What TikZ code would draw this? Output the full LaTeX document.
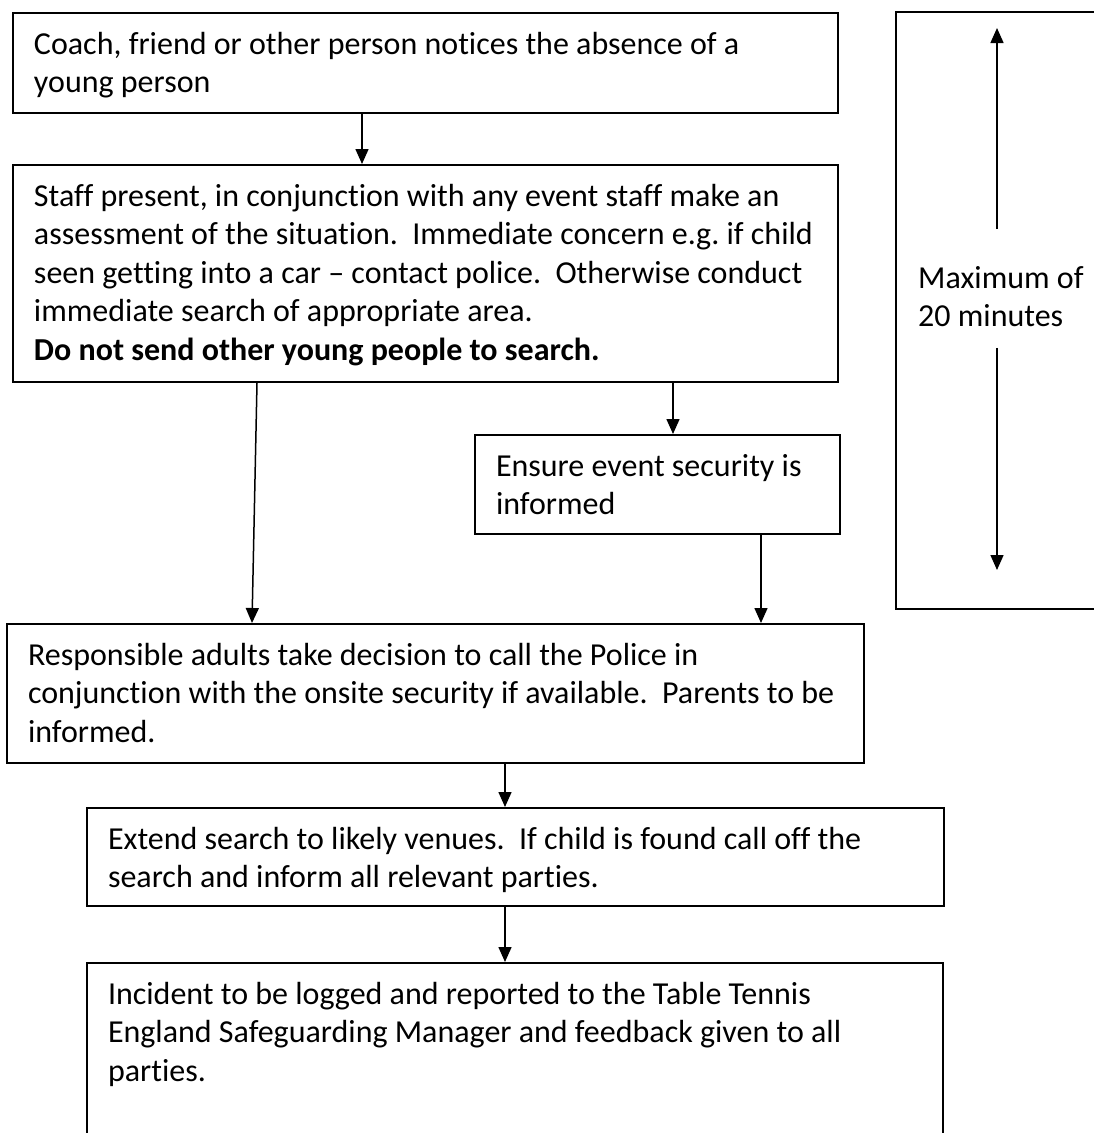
\documentclass[tikz,border=0pt]{standalone}
\usepackage{fontspec}
\setmainfont{Carlito}[Ligatures={TeX,NoCommon}]
\usetikzlibrary{arrows.meta}
\frenchspacing

\begin{document}
\begin{tikzpicture}[x=1pt, y=-1pt,
    stepbox/.style={draw, rectangle, line width=2pt, anchor=north west, align=flush left, inner xsep=21pt, inner ysep=17pt, text height=24pt, font=\fontsize{32}{38.5}\selectfont},
    flow/.style={-{Triangle[length=15pt, width=13pt]}, line width=1.5pt}]
    \useasboundingbox (0,0) rectangle (1093,1133);

    \node[stepbox, text width=783pt, text depth=42pt] (notice) at (12,12) {Coach, friend or other person notices the absence of a\\ young person};
    \node[stepbox, text width=783pt, text depth=159pt] (assess) at (12,164) {Staff present, in conjunction with any event staff make an\\ assessment of the situation.\ \ Immediate concern e.g. if child\\ seen getting into a car – contact police.\ \ Otherwise conduct\\ immediate search of appropriate area.\\ \textbf{Do not send other young people to search.}};
    \node[stepbox, text width=323pt, text depth=41pt] (security) at (474,434) {Ensure event security is\\ informed};
    \node[stepbox, text width=815pt, text depth=81pt] (police) at (6,623) {Responsible adults take decision to call the Police in\\ conjunction with the onsite security if available.\ \ Parents to be\\ informed.};
    \node[stepbox, text width=815pt, text depth=40pt] (extend) at (86,807) {Extend search to likely venues.\ \ If child is found call off the\\ search and inform all relevant parties.};
    \node[stepbox, text width=814pt, text depth=130pt] (report) at (86,962) {Incident to be logged and reported to the Table Tennis\\ England Safeguarding Manager and feedback given to all\\ parties.};

    \draw[line width=2pt] (1100,12) -- (896,12) -- (896,609) -- (1100,609);
    \node[anchor=north west, align=flush left, inner xsep=0pt, inner ysep=35pt, text width=175pt, text height=24pt, text depth=24.5pt, font=\fontsize{32}{38.5}\selectfont] (maxtime) at (918,229) {Maximum of\\ 20 minutes};
    \coordinate (uptip) at (997,28);
    \coordinate (downtip) at (997,570);

    \draw[flow] (notice.south -| 362,0) -- (assess.north -| 362,0);
    \draw[flow] (assess.south -| 257,0) -- (police.north -| 252,0);
    \draw[flow] (assess.south -| 673,0) -- (security.north -| 673,0);
    \draw[flow] (security.south -| 761,0) -- (police.north -| 761,0);
    \draw[flow] (police.south -| 505,0) -- (extend.north -| 505,0);
    \draw[flow] (extend.south -| 505,0) -- (report.north -| 505,0);
    \draw[flow] (maxtime.north -| uptip) -- (uptip);
    \draw[flow] (maxtime.south -| downtip) -- (downtip);
\end{tikzpicture}
\end{document}
